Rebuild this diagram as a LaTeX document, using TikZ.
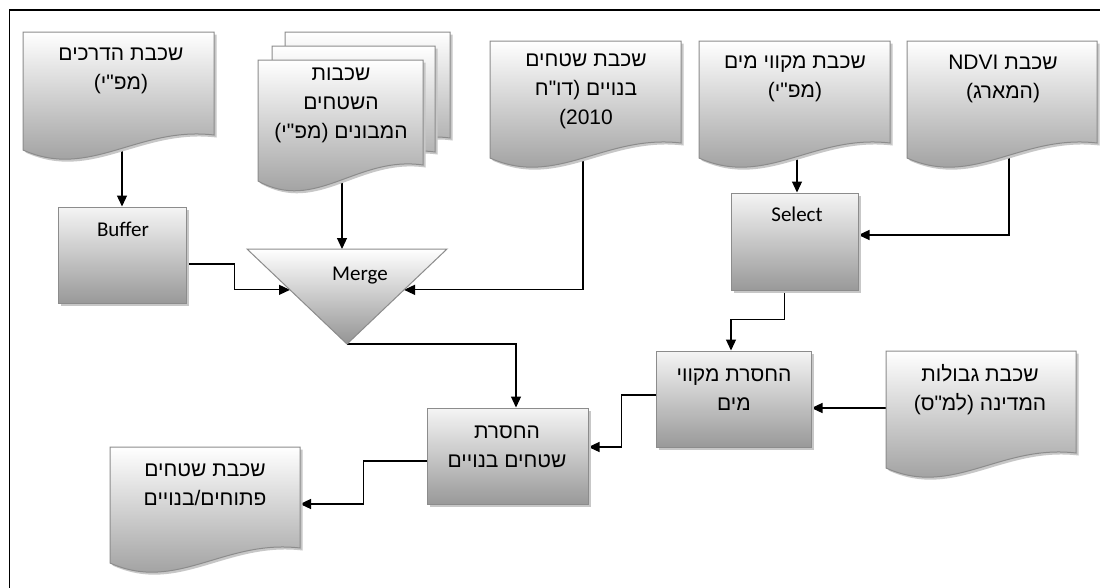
\documentclass[tikz,border=0pt]{standalone}
\usepackage{fontspec}
\setmainfont{Carlito}
\newfontfamily\heb[Script=Hebrew]{Liberation Sans}
\newfontfamily\hebdigits{Liberation Sans}
\TeXXeTstate=1
\usetikzlibrary{arrows.meta,calc,shadows}
\pgfdeclarelayer{background}
\pgfsetlayers{background,main}
\newcommand\hl[1]{\beginR #1\endR}
% document shape: left x, top y, right x, right bottom y, left bottom y
\newcommand\docshape[5]{%
  \pgfmathsetmacro\dcW{#3-#1}\pgfmathsetmacro\dcD{#5-#4}%
  \pgfmathsetmacro\dcax{#1+0.6*\dcW}\pgfmathsetmacro\dcay{#4-0.6*\dcD}%
  \pgfmathsetmacro\dcbx{#1+0.35*\dcW}\pgfmathsetmacro\dcby{#5+2.0*\dcD}%
  \fill[shapeshadow,shift={(2.5,2.5)}] (#1,#2) -- (#3,#2) -- (#3,#4)
     .. controls (\dcax,\dcay) and (\dcbx,\dcby) .. (#1,#5) -- cycle;
  \path[shapebody] (#1,#2) -- (#3,#2) -- (#3,#4)
     .. controls (\dcax,\dcay) and (\dcbx,\dcby) .. (#1,#5) -- cycle;}
\begin{document}
\begin{tikzpicture}[x=1pt,y=-1pt,
  shapebody/.style={draw=black!45, line width=1pt, top color=white, bottom color=black!42},
  shapeshadow/.style={fill=black!22},
  procbox/.style={rectangle, draw=black!45, line width=1pt, top color=white!96!black,
    bottom color=black!40, inner sep=0pt,
    general shadow={fill=black!22, shadow xshift=2.5pt, shadow yshift=-2.5pt}},
  hebtxt/.style={font=\heb\fontsize{21}{29}\selectfont, align=center, inner sep=0pt},
  lattxt/.style={font=\fontsize{21}{24}\selectfont, inner sep=0pt},
  conn/.style={draw=black, line width=1.2pt, -{Triangle[length=11pt,width=10pt]}}]
\useasboundingbox (0,0) rectangle (1100,587);
\begin{pgfonlayer}{background}
\fill[white] (0,0) rectangle (1100,587);
\end{pgfonlayer}
% outer frame (right and bottom edges fall outside the page)
\draw[line width=1.5pt] (9.5,600) -- (9.5,10) -- (1110,10);

% ---- input layers ----
\docshape{23}{32}{214}{135}{150}
\node[hebtxt] (roads) at (121,71) {\hl{שכבת הדרכים}\\\hl{(מפ"י)}};
\coordinate (roads-out) at (122,140);

\docshape{285}{32}{450}{138}{153}
\docshape{272}{46}{435}{152}{167}
\docshape{258}{60}{423}{165}{181}
\node[hebtxt] (stack) at (341,105.5) {\hl{שכבות}\\\hl{השטחים}\\\hl{המבונים (מפ"י)}};
\coordinate (stack-out) at (342,175);

\docshape{490}{41}{681}{143}{158}
\node[hebtxt] (built) at (586,91.5) {\hl{שכבת שטחים}\\\hl{בנויים (דו"ח}\\{\hebdigits(2010}};
\coordinate (built-out) at (583,150);

\docshape{699}{41}{890}{143}{158}
\node[hebtxt] (water) at (795,79) {\hl{שכבת מקווי מים}\\\hl{(מפ"י)}};
\coordinate (water-out) at (797,150);

\docshape{907}{41}{1097}{143}{158}
\node[hebtxt] (ndvi) at (1003,79) {\hl{שכבת \beginL NDVI\endL}\\\hl{(המארג)}};
\coordinate (ndvi-out) at (1009,150);

\docshape{886}{351}{1076}{453}{468}
\node[hebtxt] (borders) at (980,390) {\hl{שכבת גבולות}\\\hl{המדינה (למ"ס)}};
\coordinate (borders-w) at (886,408);

% ---- result layer ----
\docshape{110}{447}{300}{548}{563}
\node[hebtxt] (result) at (205,485) {\hl{שכבת שטחים}\\\hl{פתוחים/בנויים}};
\coordinate (result-e) at (300,504);

% ---- processes ----
\node[procbox, minimum width=128pt, minimum height=96pt] (buffer) at (122,255) {};
\node[lattxt] (buffer-t) at (123,229) {Buffer};

\node[procbox, minimum width=127pt, minimum height=97pt] (select) at (794.5,241.5) {};
\node[lattxt] (select-t) at (797,214) {Select};

\node[procbox, minimum width=155pt, minimum height=96pt] (remwater) at (733.5,399) {};
\node[hebtxt] (remwater-t) at (734,390) {\hl{החסרת מקווי}\\\hl{מים}};

\node[procbox, minimum width=161pt, minimum height=96pt] (rembuilt) at (507.5,456) {};
\node[hebtxt] (rembuilt-t) at (507,447) {\hl{החסרת}\\\hl{שטחים בנויים}};

% merge triangle
\coordinate (mergeTL) at (247,249);
\coordinate (mergeTR) at (447,249);
\coordinate (merge-tip) at (347,344);
\fill[shapeshadow,shift={(2.5,2.5)}] (mergeTL) -- (mergeTR) -- (merge-tip) -- cycle;
\path[shapebody] (mergeTL) -- (mergeTR) -- (merge-tip) -- cycle;
\node[lattxt] (merge) at (360,276) {Merge};
\coordinate (merge-top) at (342,249);
\coordinate (mergeL) at ($(mergeTL)!0.43!(merge-tip)$);
\coordinate (mergeR) at ($(mergeTR)!0.43!(merge-tip)$);

% ---- connectors ----
\begin{pgfonlayer}{background}
\draw[conn] (roads-out) -- (roads-out |- buffer.north);
\draw[conn] (stack-out) -- (merge-top);
\draw[conn] ([yshift=-9pt]buffer.east) -- ++(48,0) |- (mergeL);
\draw[conn] (built-out) |- (mergeR);
\draw[conn] (water-out) -- (water-out |- select.north);
\draw[conn] (ndvi-out) |- ([yshift=6.5pt]select.east);
\draw[conn] ([xshift=-10pt]select.south) -- ++(0,29) -| ([xshift=-2.5pt]remwater.north);
\draw[conn] (borders-w) -- ([yshift=-9pt]remwater.east);
\draw[conn] (merge-tip) -| ([xshift=8.5pt]rembuilt.north);
\draw[conn] ([yshift=4pt]remwater.west) -- ++(-34,0) |- ([yshift=9pt]rembuilt.east);
\draw[conn] ([yshift=-5pt]rembuilt.west) -- ++(-63,0) |- (result-e);
\end{pgfonlayer}
\end{tikzpicture}
\end{document}
